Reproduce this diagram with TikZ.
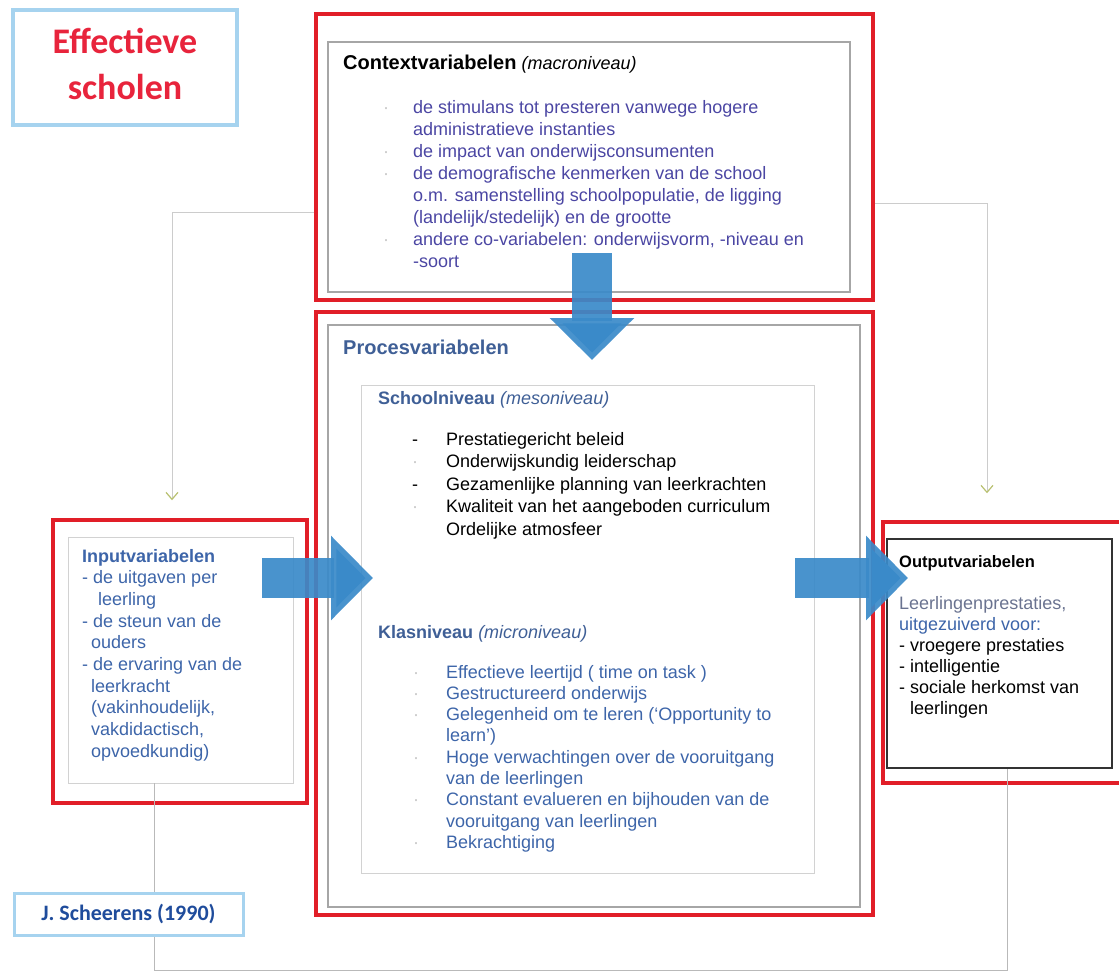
\documentclass[tikz,border=0pt]{standalone}
\usepackage{fontspec}
\setmainfont{Liberation Sans}
\newfontfamily\calibri{Carlito}
\usetikzlibrary{arrows.meta}
\definecolor{boxred}{HTML}{E11E28}
\definecolor{arrowblue}{HTML}{3A8AC9}
\definecolor{titlered}{HTML}{E8243C}
\definecolor{skyline}{HTML}{A6D3EF}
\definecolor{ctxblue}{HTML}{4B46A3}
\definecolor{headblue}{HTML}{3F5F96}
\definecolor{itemblue}{HTML}{3D65A9}
\definecolor{greyblue}{HTML}{6A7390}
\definecolor{refblue}{HTML}{1F4C9C}
\definecolor{tipolive}{HTML}{B8C070}
\newcommand{\fb}{\textcolor{gray!45}{·}}
\tikzset{
  box/.style 2 args={minimum width=#1pt, minimum height=#2pt, inner sep=0pt},
  redbox/.style={draw=boxred, line width=3.5pt},
  skybox/.style={draw=skyline, line width=3.5pt, fill=white},
  darkbox/.style={draw=gray!70, line width=1.2pt},
  lightbox/.style={draw=gray!35, line width=0.8pt},
  blackbox/.style={draw=black!80, line width=1.5pt},
  txt/.style={anchor=base west, inner sep=0pt, font=\fontsize{18}{22}\selectfont},
  conn/.style={draw=gray!40, line width=0.9pt, -{Straight Barb[length=7pt,width=12pt,color=tipolive,line width=1.2pt]}},
  fbline/.style={draw=gray!55, line width=0.8pt},
  blockarrow/.style={draw=arrowblue, draw opacity=0.92, line width=40pt, -{Triangle[length=42pt,width=82pt]}}
}
\begin{document}
\begin{tikzpicture}[x=1pt,y=-1pt]
\useasboundingbox (0,0) rectangle (1119,975);
\node[skybox, box={224}{115}, text=titlered, font=\calibri\bfseries\fontsize{36}{46}\selectfont] (title) at (125,67.5)
  {\begin{tabular}{@{}c@{}}Effectieve\\scholen\end{tabular}};
\node[redbox, box={557}{286}] (ctx) at (594.5,157) {};
\node[darkbox, box={522}{250}] (ctxin) at (589,167) {};
\node[redbox, box={557}{603}] (proc) at (594.5,613.5) {};
\node[darkbox, box={532}{582}] (procin) at (594,616) {};
\node[lightbox, box={453}{488}] (school) at (587.5,629) {};
\node[redbox, box={254}{283}] (inp) at (180,661.5) {};
\node[lightbox, box={225}{246}] (inpin) at (180.5,660) {};
\node[redbox, box={242}{261}] (out) at (1004,652.5) {};
\node[blackbox, box={225}{229}] (outin) at (999.5,653.5) {};
\coordinate (cl) at (172,212);
\coordinate (cr) at (987,203);
\draw[conn, shorten >=18pt] (ctx.west |- cl) -- (cl) -- (cl |- inp.north);
\draw[conn, shorten >=27pt] (ctx.east |- cr) -- (cr) -- (cr |- out.north);
\coordinate (fl) at (154,970);
\coordinate (fr) at (1007,970);
\draw[fbline] (inpin.south -| fl) -- (fl) -- (fr) -- (outin.south -| fr);
\node[skybox, line width=3pt, box={229}{42}, text=refblue, font=\calibri\bfseries\fontsize{22}{26}\selectfont] (ref) at (128.5,914) {J. Scheerens (1990)};
\node[txt] (ctxhd) at (343,69) {{\bfseries\fontsize{20}{24}\selectfont Contextvariabelen} \textit{(macroniveau)}};
\node[txt, text=ctxblue] (ctxlist) at (383,113) {\begin{tabular}[t]{@{}p{30pt}@{}l@{}}
\fb & de stimulans tot presteren vanwege hogere\\
    & administratieve instanties\\
\fb & de impact van onderwijsconsumenten\\
\fb & de demografische kenmerken van de school\\
    & o.m. samenstelling schoolpopulatie, de ligging\\
    & (landelijk/stedelijk) en de grootte\\
\fb & andere co-variabelen: onderwijsvorm, -niveau en\\
    & -soort
\end{tabular}};
\node[txt, text=headblue, font=\bfseries\fontsize{20}{24}\selectfont] (prochd) at (343,354) {Procesvariabelen};
\node[txt, text=headblue] (schoolhd) at (378,404) {\textbf{Schoolniveau} \textit{(mesoniveau)}};
\node[txt, font=\fontsize{18}{22.5}\selectfont] (schoollist) at (412,445) {\begin{tabular}[t]{@{}p{34pt}@{}l@{}}
-   & Prestatiegericht beleid\\
\fb & Onderwijskundig leiderschap\\
-   & Gezamenlijke planning van leerkrachten\\
\fb & Kwaliteit van het aangeboden curriculum\\
    & Ordelijke atmosfeer
\end{tabular}};
\node[txt, text=headblue] (klashd) at (378,638) {\textbf{Klasniveau} \textit{(microniveau)}};
\node[txt, text=itemblue, font=\fontsize{18}{21.3}\selectfont] (klaslist) at (413,678) {\begin{tabular}[t]{@{}p{33pt}@{}l@{}}
\fb & Effectieve leertijd ( time on task )\\
\fb & Gestructureerd onderwijs\\
\fb & Gelegenheid om te leren (`Opportunity to\\
    & learn')\\
\fb & Hoge verwachtingen over de vooruitgang\\
    & van de leerlingen\\
\fb & Constant evalueren en bijhouden van de\\
    & vooruitgang van leerlingen\\
\fb & Bekrachtiging
\end{tabular}};
\node[txt, text=itemblue, font=\fontsize{18}{21.7}\selectfont] (inptxt) at (82,562) {\begin{tabular}[t]{@{}l@{}}
\textbf{Inputvariabelen}\\
- de uitgaven per\\
\hspace*{16pt}leerling\\
- de steun van de\\
\hspace*{9pt}ouders\\
- de ervaring van de\\
\hspace*{9pt}leerkracht\\
\hspace*{9pt}(vakinhoudelijk,\\
\hspace*{9pt}vakdidactisch,\\
\hspace*{9pt}opvoedkundig)
\end{tabular}};
\node[txt, font=\fontsize{18}{21}\selectfont] (outtxt) at (899,567) {\begin{tabular}[t]{@{}l@{}}
{\bfseries\fontsize{16.5}{21}\selectfont Outputvariabelen}\\
\\
{\color{greyblue}Leerlingenprestaties,}\\
{\color{itemblue}uitgezuiverd voor:}\\
- vroegere prestaties\\
- intelligentie\\
- sociale herkomst van\\
\hspace*{11pt}leerlingen
\end{tabular}};
\coordinate (la) at (262,578);
\coordinate (lb) at (373,578);
\coordinate (ra) at (795,578);
\coordinate (rb) at (908,578);
\coordinate (da) at (592,253);
\coordinate (db) at (592,360);
\foreach \a/\b in {la/lb, ra/rb, da/db}
{
  \draw[blockarrow] (\a) -- (\b);
}
\end{tikzpicture}
\end{document}
